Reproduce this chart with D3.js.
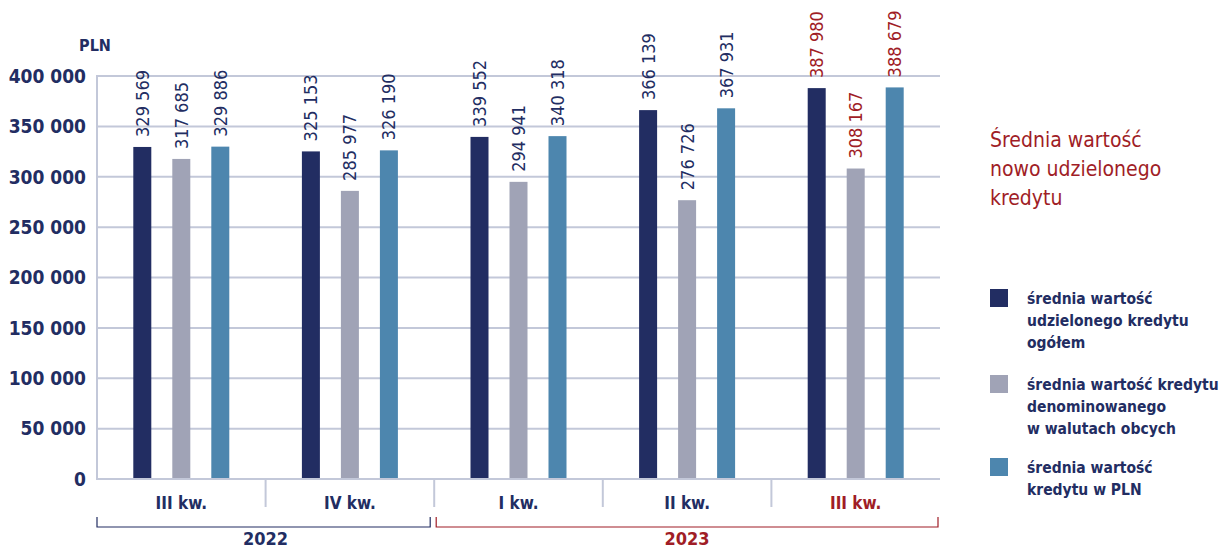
<!DOCTYPE html>
<html lang="pl">
  <head>
    <meta charset="utf-8" />
    <title>Średnia wartość nowo udzielonego kredytu</title>
    <script src="https://cdn.jsdelivr.net/npm/d3@7"></script>
    <style>
      body { margin: 0; background: #fff; }
      svg { display: block; }
      text { font-family: "Liberation Sans Narrow", "DejaVu Sans Condensed", "Open Sans", sans-serif; }
    </style>
  </head>
  <body>
    <script>
      // data
      var quarters = ["III kw.", "IV kw.", "I kw.", "II kw.", "III kw."]
      var series = ["ogolem", "walutowe", "pln"]
      var seriesNames = [
        ["średnia wartość", "udzielonego kredytu", "ogółem"],
        ["średnia wartość kredytu", "denominowanego", "w walutach obcych"],
        ["średnia wartość", "kredytu w PLN"]
      ]
      var ogolem = [329569, 325153, 339552, 366139, 387980]
      var walutowe = [317685, 285977, 294941, 276726, 308167]
      var pln = [329886, 326190, 340318, 367931, 388679]
      var yTicks = [0, 50000, 100000, 150000, 200000, 250000, 300000, 350000, 400000]
      var years = [
        {year: "2022", from: 0, to: 2},
        {year: "2023", from: 2, to: 5}
      ]

      var navy = "#222d62", red = "#a01d26", grid = "#c3c8d9"
      var colors = ["#222d62", "#a0a3b6", "#4d86ae"]

      var W = 1222, H = 549
      var mLeft = 97, mRight = 940, mTop = 76, mBottom = 479

      var svg = d3.select("body").append("svg")
        .attr("width", W).attr("height", H)

      var x = d3.scaleBand().domain(d3.range(quarters.length)).range([mLeft, mRight]).padding(0)
      var xs = d3.scalePoint().domain(series).range([-39, 39])
      var y = d3.scaleLinear().domain([0, 400000]).range([mBottom, mTop])
      var barW = 18

      var fmt = function(v) { return d3.format(",")(v).replace(/,/g, " ") }

      // grid lines
      svg.append("g").selectAll("line")
        .data(yTicks.slice(1))
        .enter().append("line")
          .attr("x1", mLeft).attr("x2", mRight)
          .attr("y1", function(d) { return y(d) }).attr("y2", function(d) { return y(d) })
          .attr("stroke", grid).attr("stroke-width", 2)

      // y tick labels
      svg.append("g").selectAll("text")
        .data(yTicks)
        .enter().append("text")
          .attr("x", 86)
          .attr("y", function(d) { return y(d) })
          .attr("dy", "0.36em")
          .attr("text-anchor", "end")
          .attr("fill", navy)
          .style("font-size", "19px")
          .style("font-weight", "bold")
          .text(fmt)

      svg.append("text")
        .attr("x", 95).attr("y", 51)
        .attr("text-anchor", "middle")
        .attr("fill", navy)
        .style("font-size", "16px")
        .style("font-weight", "bold")
        .text("PLN")

      // bars
      var rows = quarters.map(function(q, i) {
        return [ogolem[i], walutowe[i], pln[i]].map(function(v, j) {
          return {q: i, s: series[j], v: v, c: colors[j]}
        })
      })

      var grp = svg.append("g").selectAll("g")
        .data(rows)
        .enter().append("g")
          .attr("transform", function(d, i) { return "translate(" + (x(i) + x.bandwidth() / 2) + ",0)" })

      grp.selectAll("rect")
        .data(function(d) { return d })
        .enter().append("rect")
          .attr("x", function(d) { return xs(d.s) - barW / 2 })
          .attr("y", function(d) { return y(d.v) })
          .attr("width", barW)
          .attr("height", function(d) { return mBottom - y(d.v) })
          .attr("fill", function(d) { return d.c })

      grp.selectAll("text")
        .data(function(d) { return d })
        .enter().append("text")
          .attr("transform", function(d) {
            return "translate(" + xs(d.s) + "," + (y(d.v) - 10) + ") rotate(-90)"
          })
          .attr("dy", "0.36em")
          .attr("text-anchor", "start")
          .attr("fill", function(d) { return d.q === 4 ? red : navy })
          .style("font-size", "18px")
          .text(function(d) { return fmt(d.v) })

      // axes lines
      svg.append("line")
        .attr("x1", mLeft).attr("x2", mLeft).attr("y1", mTop - 1).attr("y2", mBottom + 1)
        .attr("stroke", grid).attr("stroke-width", 2)
      svg.append("line")
        .attr("x1", mLeft).attr("x2", mRight).attr("y1", mBottom).attr("y2", mBottom)
        .attr("stroke", grid).attr("stroke-width", 2)

      // quarter separators
      svg.append("g").selectAll("line")
        .data(d3.range(1, quarters.length))
        .enter().append("line")
          .attr("x1", function(d) { return x(d) }).attr("x2", function(d) { return x(d) })
          .attr("y1", mBottom).attr("y2", mBottom + 28)
          .attr("stroke", grid).attr("stroke-width", 2)

      svg.append("g").selectAll("text")
        .data(quarters)
        .enter().append("text")
          .attr("x", function(d, i) { return x(i) + x.bandwidth() / 2 })
          .attr("y", 509)
          .attr("text-anchor", "middle")
          .attr("fill", function(d, i) { return i === 4 ? red : navy })
          .style("font-size", "17px")
          .style("font-weight", "bold")
          .text(function(d) { return d })

      // year brackets
      var yb = svg.append("g").selectAll("g")
        .data(years)
        .enter().append("g")
      yb.append("path")
        .attr("d", function(d, i) {
          var x0 = x(d.from) + (i === 0 ? 0 : 2)
          var x1 = (d.to < quarters.length ? x(d.to) - 4 : mRight - 2)
          return "M" + x0 + ",517V527H" + x1 + "V517"
        })
        .attr("fill", "none")
        .attr("stroke", function(d, i) { return i === 0 ? navy : red })
        .attr("stroke-width", 1.2)
      yb.append("text")
        .attr("x", function(d) { return (x(d.from) + (d.to < quarters.length ? x(d.to) : mRight)) / 2 })
        .attr("y", 545)
        .attr("text-anchor", "middle")
        .attr("fill", function(d, i) { return i === 0 ? navy : red })
        .style("font-size", "18px")
        .style("font-weight", "bold")
        .text(function(d) { return d.year })

      // title
      svg.append("text")
        .attr("x", 990).attr("y", 147)
        .attr("fill", red)
        .style("font-size", "21px")
        .selectAll("tspan")
        .data(["Średnia wartość", "nowo udzielonego", "kredytu"])
        .enter().append("tspan")
          .attr("x", 990)
          .attr("dy", function(d, i) { return i === 0 ? 0 : 29 })
          .text(function(d) { return d })

      // legend
      var legY = [289, 375, 458]
      var leg = svg.append("g").selectAll("g")
        .data(seriesNames)
        .enter().append("g")
          .attr("transform", function(d, i) { return "translate(990," + legY[i] + ")" })
      leg.append("rect")
        .attr("width", 18).attr("height", 18)
        .attr("fill", function(d, i) { return colors[i] })
      leg.append("text")
        .attr("fill", navy)
        .style("font-size", "15.5px")
        .style("font-weight", "bold")
        .selectAll("tspan")
        .data(function(d) { return d })
        .enter().append("tspan")
          .attr("x", 37)
          .attr("y", function(d, i) { return 15 + i * 22 })
          .text(function(d) { return d })
    </script>
  </body>
</html>
